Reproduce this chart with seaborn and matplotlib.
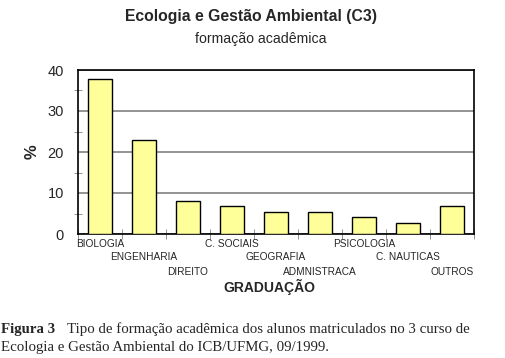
import numpy as np
import pandas as pd
import matplotlib
matplotlib.use("Agg")
import matplotlib.pyplot as plt
import seaborn as sns

# Data (percent of students per undergraduate course)
cursos = ["BIOLOGIA", "ENGENHARIA", "DIREITO", "C. SOCIAIS", "GEOGRAFIA",
          "ADMNISTRACA", "PSICOLOGIA", "C. NAUTICAS", "OUTROS"]
percentual = [37.8, 23.0, 8.1, 6.8, 5.4, 5.4, 4.1, 2.7, 6.8]

sns.set_style("white")
plt.rcParams["font.family"] = ["Liberation Sans", "DejaVu Sans"]

df = pd.DataFrame({"curso": cursos, "pct": percentual})

fig = plt.figure(figsize=(5.06, 3.58), dpi=100)
ax = fig.add_axes([78 / 506, 1 - 234 / 358, 396 / 506, 164 / 358])

sns.barplot(data=df, x="curso", y="pct", color="#FFFF99", width=0.55,
            edgecolor="black", linewidth=1.0, saturation=1, ax=ax, zorder=3)

ax.set_ylim(0, 40)
ax.set_xlim(-0.5, len(cursos) - 0.5)
ax.set_yticks([0, 10, 20, 30, 40])
ax.set_yticks([5, 15, 25, 35], minor=True)
ax.yaxis.grid(True, color="#808080", linewidth=1.2, zorder=0)
ax.tick_params(axis="y", which="major", direction="out", length=6,
               color="#808080", labelsize=10.5, pad=4)
ax.tick_params(axis="y", which="minor", direction="inout", length=6,
               color="#808080", left=True)

# category names staggered in three rows under the bars
ax.set_xticks(range(len(cursos)))
ax.set_xticklabels([])
ax.tick_params(axis="x", which="major", length=0)
ax.set_xticks(np.arange(-0.5, len(cursos), 1.0), minor=True)
ax.tick_params(axis="x", which="minor", direction="inout", length=7,
               color="#808080", bottom=True)
row_offsets = [-7.2, -16.6, -27.4]
for i, c in enumerate(cursos):
    ax.annotate(c, xy=(i, 0), xycoords=("data", "axes fraction"),
                xytext=(0, row_offsets[i % 3]), textcoords="offset points",
                ha="center", va="center", fontsize=7.3)

for s in ax.spines.values():
    s.set_color("black")
    s.set_linewidth(1.2)
    s.set_visible(True)

ax.set_xlabel("")
ax.set_ylabel("%", fontsize=12, fontweight="bold", labelpad=6)
fig.text(269 / 506, 1 - 287 / 358, "GRADUAÇÃO", ha="center", va="center",
         fontsize=10, fontweight="bold")

fig.text(251 / 506, 1 - 17 / 358, "Ecologia e Gestão Ambiental (C3)",
         ha="center", va="center", fontsize=11.3, fontweight="bold")
fig.text(261 / 506, 1 - 39 / 358, "formação acadêmica",
         ha="center", va="center", fontsize=10.2)

serif = ["Liberation Serif", "DejaVu Serif"]
fig.text(1 / 506, 1 - 329 / 358, "Figura 3", family=serif, fontweight="bold",
         fontsize=10.7, ha="left", va="center")
fig.text(67 / 506, 1 - 329 / 358,
         "Tipo de formação acadêmica dos alunos matriculados no 3 curso de",
         family=serif, fontsize=10.7, ha="left", va="center")
fig.text(1 / 506, 1 - 347 / 358,
         "Ecologia e Gestão Ambiental do ICB/UFMG, 09/1999.",
         family=serif, fontsize=10.7, ha="left", va="center")

fig.savefig("out.png", dpi=100)
